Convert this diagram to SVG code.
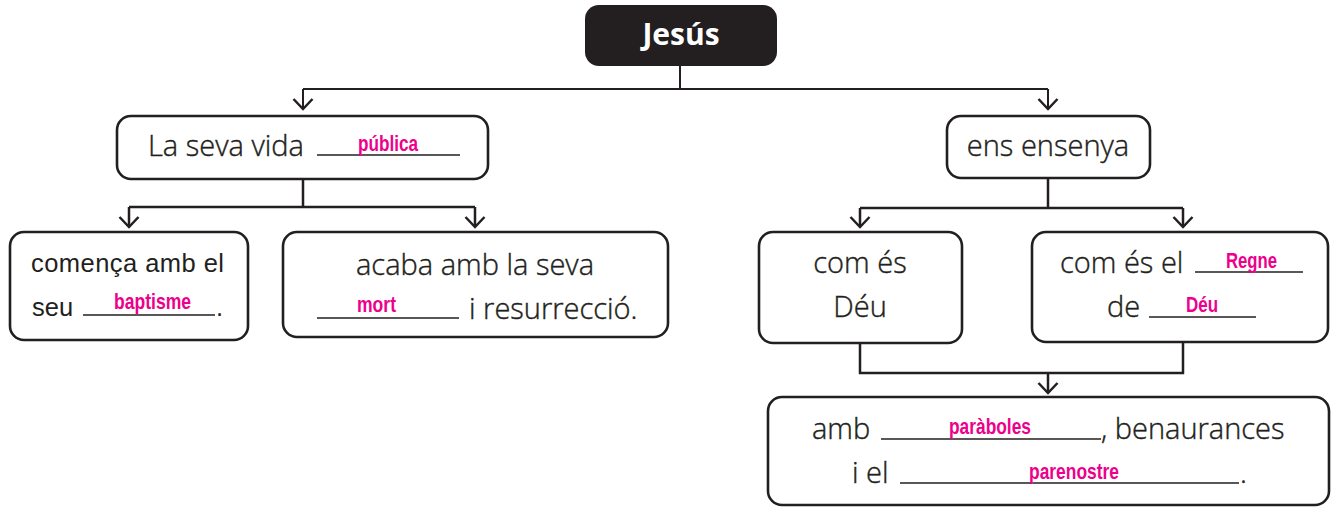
<svg xmlns="http://www.w3.org/2000/svg" width="1331" height="507" viewBox="0 0 1331 507">
<style>
.box{fill:#fff;stroke:#231f20;stroke-width:2.6}
.lt{font-family:"Open Sans","Liberation Sans",sans-serif;font-weight:300;fill:#231f20;stroke:#231f20;stroke-width:0.4}
.hv{font-family:"Liberation Sans",Arial,sans-serif;fill:#231f20}
.pk{font-family:"Liberation Sans",Arial,sans-serif;font-weight:bold;fill:#ec008c;font-size:22px}
.ul{stroke:#231f20;stroke-width:1.4;fill:none}
.cn{stroke:#231f20;stroke-width:2.5;fill:none}
.ah{stroke:#231f20;stroke-width:2.5;fill:none;stroke-linejoin:miter}
</style>
<rect width="1331" height="507" fill="#fff"/>
<g id="connectors">
<path class="cn" style="stroke-width:2" d="M680,66 V89 M303,89 H1048 M303,89 V108 M1048,89 V108"/>
<path class="ah" d="M293.5,99 L303,109 L312.5,99 M1038.5,99 L1048,109 L1057.5,99"/>
<path class="cn" d="M303,179 V207 M129,207 H475 M129,207 V226 M475,207 V226"/>
<path class="ah" d="M119.5,217 L129,227 L138.5,217 M465.5,217 L475,227 L484.5,217"/>
<path class="cn" d="M1048,178 V208 M860,208 H1183 M860,208 V226 M1183,208 V226"/>
<path class="ah" d="M850.5,217 L860,227 L869.5,217 M1173.5,217 L1183,227 L1192.5,217"/>
<path class="cn" d="M860,343 V373 M1183,342 V373 M858.8,373 H1184.2 M1048,373 V392"/>
<path class="ah" d="M1038.5,383 L1048,393 L1057.5,383"/>
</g>
<g id="jesus">
<rect x="585" y="5" width="192" height="61" rx="14" fill="#231f20"/>
<text x="681" y="45" text-anchor="middle" font-family="'Open Sans','Liberation Sans',sans-serif" font-weight="bold" font-size="30" fill="#fff">Jesús</text>
</g>
<g id="vida">
<rect class="box" x="117" y="116" width="371" height="63" rx="14"/>
<text class="lt" x="148" y="156" font-size="29">La seva vida</text>
<line class="ul" x1="317" y1="155" x2="460" y2="155"/>
<text class="pk" x="358" y="151" textLength="60" lengthAdjust="spacingAndGlyphs">pública</text>
</g>
<g id="comenca">
<rect class="box" x="10" y="232" width="238" height="108" rx="14"/>
<text class="hv" x="31" y="272" font-size="25.5" textLength="193">comença amb el</text>
<text class="hv" x="32" y="316" font-size="25.5">seu</text>
<line class="ul" x1="83" y1="315" x2="215" y2="315"/>
<text class="hv" x="216" y="316" font-size="25.5">.</text>
<text class="pk" x="114" y="309" textLength="77" lengthAdjust="spacingAndGlyphs">baptisme</text>
</g>
<g id="acaba">
<rect class="box" x="283" y="232" width="385" height="105" rx="14"/>
<text class="lt" x="475" y="275" font-size="29" text-anchor="middle">acaba amb la seva</text>
<line class="ul" x1="317" y1="318" x2="459" y2="318"/>
<text class="pk" x="357" y="312" textLength="39" lengthAdjust="spacingAndGlyphs">mort</text>
<text class="lt" x="469" y="319" font-size="29">i resurrecció.</text>
</g>
<g id="ensenya">
<rect class="box" x="947" y="116" width="203" height="62" rx="14"/>
<text class="lt" x="1048" y="156" font-size="29" text-anchor="middle">ens ensenya</text>
</g>
<g id="deu">
<rect class="box" x="759" y="232" width="203" height="111" rx="14"/>
<text class="lt" x="860" y="273" font-size="29" text-anchor="middle">com és</text>
<text class="lt" x="860" y="317" font-size="29" text-anchor="middle">Déu</text>
</g>
<g id="regne">
<rect class="box" x="1032" y="232" width="296" height="110" rx="14"/>
<text class="lt" x="1060" y="273" font-size="29">com és el</text>
<line class="ul" x1="1195" y1="272" x2="1303" y2="272"/>
<text class="pk" x="1226" y="268" textLength="51" lengthAdjust="spacingAndGlyphs">Regne</text>
<text class="lt" x="1107" y="317" font-size="29">de</text>
<line class="ul" x1="1149" y1="317" x2="1256" y2="317"/>
<text class="pk" x="1186" y="312" textLength="32" lengthAdjust="spacingAndGlyphs">Déu</text>
</g>
<g id="amb">
<rect class="box" x="768" y="397" width="561" height="108" rx="14"/>
<text class="lt" x="812" y="439" font-size="29">amb</text>
<line class="ul" x1="881" y1="439" x2="1101" y2="439"/>
<text class="pk" x="949" y="434" textLength="82" lengthAdjust="spacingAndGlyphs">paràboles</text>
<text class="lt" x="1101" y="439" font-size="29">, benaurances</text>
<text class="lt" x="852" y="483" font-size="29">i el</text>
<line class="ul" x1="900" y1="483" x2="1239" y2="483"/>
<text class="pk" x="1029" y="479" textLength="90" lengthAdjust="spacingAndGlyphs">parenostre</text>
<text class="lt" x="1240" y="483" font-size="29">.</text>
</g>
</svg>
